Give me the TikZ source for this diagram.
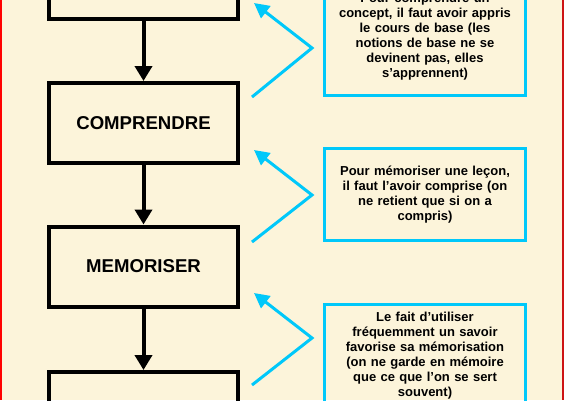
\documentclass[tikz,border=0pt]{standalone}
\usepackage{fontspec}
\setmainfont{Liberation Sans}
\usetikzlibrary{arrows.meta}
\definecolor{fond}{RGB}{252,244,218}
\definecolor{bleu}{RGB}{0,200,250}
\definecolor{rougebord}{RGB}{205,20,20}
\begin{document}
\begin{tikzpicture}[x=1pt,y=-1pt,font=\bfseries,
  etape/.style={draw=black,line width=4pt,minimum width=189pt,minimum height=80pt,inner sep=0pt,font=\bfseries\fontsize{18.6}{20}\selectfont},
  note/.style={draw=bleu,line width=3pt,minimum width=201pt,text width=195pt,align=center,inner sep=0pt,font=\bfseries\fontsize{13}{15}\selectfont},
  suite/.style={line width=4pt,-{Triangle[length=15pt,width=17pt]}},
  renvoi/.style={draw=bleu,line width=3pt,line join=miter,-{Triangle[length=15pt,width=15pt]}}]
  \useasboundingbox (0,0) rectangle (564,400);
  \clip (0,0) rectangle (564,400);
  \fill[fond] (0,0) rectangle (564,400);
  \fill[red] (0,0) rectangle (1.5,400);
  \fill[rougebord] (562,0) rectangle (564,400);
  \node[etape] (e1) at (143.5,-21.5){};
  \node[etape] (e2) at (143.5,123){COMPRENDRE};
  \node[etape] (e3) at (143.5,266.5){MEMORISER};
  \node[etape] (e4) at (143.5,412){};
  \draw[suite] (e1) -- (e2);
  \draw[suite] (e2) -- (e3);
  \draw[suite] (e3) -- (e4);
  \node[note,minimum height=118pt] (n1) at (425,36.5){Pour comprendre un\\concept, il faut avoir appris\\le cours de base (les\\notions de base ne se\\devinent pas, elles\\s’apprennent)};
  \node[note,minimum height=92pt] (n2) at (425,194.5){Pour mémoriser une leçon,\\il faut l’avoir comprise (on\\ne retient que si on a\\compris)};
  \node[note,minimum height=103pt] (n3) at (425,356){Le fait d’utiliser\\fréquemment un savoir\\favorise sa mémorisation\\(on ne garde en mémoire\\que ce que l’on se sert\\souvent)};
  \coordinate (b1) at (252,97);
  \coordinate (p1) at (312,48);
  \coordinate (h1) at (254,3);
  \coordinate (b2) at (252,242);
  \coordinate (p2) at (312,195);
  \coordinate (h2) at (254,150);
  \coordinate (b3) at (252,385);
  \coordinate (p3) at (312,338);
  \coordinate (h3) at (254,293);
  \draw[renvoi] (b1) -- (p1) -- (h1);
  \draw[renvoi] (b2) -- (p2) -- (h2);
  \draw[renvoi] (b3) -- (p3) -- (h3);
\end{tikzpicture}
\end{document}
